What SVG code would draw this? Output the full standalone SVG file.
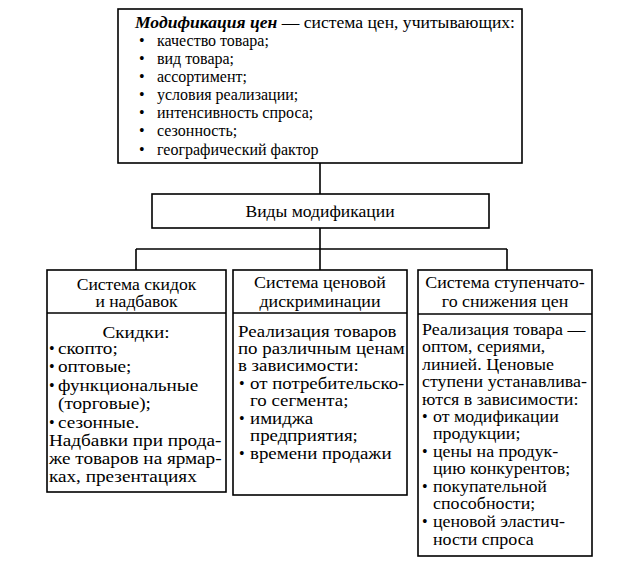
<svg xmlns="http://www.w3.org/2000/svg" width="637" height="579" viewBox="0 0 637 579" font-family="'Liberation Serif', 'Times New Roman', serif" font-size="16">
<style>
.b{fill:#fff;stroke:#000;stroke-width:1.6}
.l{stroke:#000;stroke-width:1.6;fill:none}
text{fill:#000}
.c{text-anchor:middle}
</style>
<rect width="637" height="579" fill="#fff"/>
<g id="connectors">
<line class="l" x1="320" y1="163" x2="320" y2="194"/>
<line class="l" x1="320" y1="228" x2="320" y2="249"/>
<line class="l" x1="136" y1="249" x2="507" y2="249"/>
<line class="l" x1="136" y1="249" x2="136" y2="270"/>
<line class="l" x1="320" y1="249" x2="320" y2="270"/>
<line class="l" x1="507" y1="249" x2="507" y2="270"/>
</g>
<g id="top">
<rect class="b" x="118" y="9" width="404" height="154"/>
<text x="135" y="28" transform="translate(135,0) scale(1.1,1) translate(-135,0)"><tspan font-weight="bold" font-style="italic">Модификация цен</tspan> — система цен, учитывающих:</text>
<g>
<text x="139" y="46">•</text><text x="157" y="46">качество товара;</text>
<text x="139" y="64">•</text><text x="157" y="64">вид товара;</text>
<text x="139" y="82">•</text><text x="157" y="82">ассортимент;</text>
<text x="139" y="100">•</text><text x="157" y="100">условия реализации;</text>
<text x="139" y="118">•</text><text x="157" y="118">интенсивность спроса;</text>
<text x="139" y="136">•</text><text x="157" y="136">сезонность;</text>
<text x="139" y="155">•</text><text x="157" y="155">географический фактор</text>
</g>
</g>
<g id="kinds">
<rect class="b" x="152" y="194" width="337" height="34"/>
<text class="c" x="320" y="217" transform="translate(320,0) scale(1.1,1) translate(-320,0)">Виды модификации</text>
</g>
<g id="discounts">
<rect class="b" x="47" y="270" width="179" height="222"/>
<line class="l" x1="47" y1="313" x2="226" y2="313"/>
<g transform="translate(136.5,0) scale(1.1,1) translate(-136.5,0)">
<text class="c" x="136.5" y="290">Система скидок</text>
<text class="c" x="136.5" y="307">и надбавок</text>
</g>
<text x="49" y="354">•</text>
<text x="49" y="372">•</text>
<text x="49" y="391">•</text>
<text x="49" y="428">•</text>
<g transform="translate(49,0) scale(1.2,1) translate(-49,0)">
<text class="c" x="121.5" y="338">Скидки:</text>
<text x="56.5" y="354">скопто;</text>
<text x="56.5" y="372">оптовые;</text>
<text x="56.5" y="391">функциональные</text>
<text x="56.5" y="409">(торговые);</text>
<text x="56.5" y="428">сезонные.</text>
<text x="49" y="446">Надбавки при прода-</text>
<text x="49" y="464">же товаров на ярмар-</text>
<text x="49" y="482">ках, презентациях</text>
</g>
</g>
<g id="discrimination">
<rect class="b" x="233" y="270" width="174" height="225"/>
<line class="l" x1="233" y1="313" x2="407" y2="313"/>
<g transform="translate(320,0) scale(1.12,1) translate(-320,0)">
<text class="c" x="320" y="288">Система ценовой</text>
<text class="c" x="320" y="307">дискриминации</text>
</g>
<text x="239" y="389">•</text>
<text x="239" y="424">•</text>
<text x="239" y="459">•</text>
<g transform="translate(238,0) scale(1.18,1) translate(-238,0)">
<text x="238" y="337">Реализация товаров</text>
<text x="238" y="354">по различным ценам</text>
<text x="238" y="371">в зависимости:</text>
<text x="248.2" y="389">от потребительско-</text>
<text x="248.2" y="406">го сегмента;</text>
<text x="248.2" y="424">имиджа</text>
<text x="248.2" y="441">предприятия;</text>
<text x="248.2" y="459">времени продажи</text>
</g>
</g>
<g id="stepwise">
<rect class="b" x="418" y="270" width="174" height="286"/>
<line class="l" x1="418" y1="314" x2="592" y2="314"/>
<g transform="translate(505,0) scale(1.12,1) translate(-505,0)">
<text class="c" x="505" y="288">Система ступенчато-</text>
<text class="c" x="505" y="307">го снижения цен</text>
</g>
<text x="422" y="422">•</text>
<text x="422" y="457">•</text>
<text x="422" y="492">•</text>
<text x="422" y="527">•</text>
<g transform="translate(422,0) scale(1.12,1) translate(-422,0)">
<text x="422" y="335">Реализация товара —</text>
<text x="422" y="352">оптом, сериями,</text>
<text x="422" y="370">линией. Ценовые</text>
<text x="422" y="387">ступени устанавлива-</text>
<text x="422" y="405">ются в зависимости:</text>
<text x="431.8" y="422">от модификации</text>
<text x="431.8" y="439">продукции;</text>
<text x="431.8" y="457">цены на продук-</text>
<text x="431.8" y="474">цию конкурентов;</text>
<text x="431.8" y="492">покупательной</text>
<text x="431.8" y="509">способности;</text>
<text x="431.8" y="527">ценовой эластич-</text>
<text x="431.8" y="545">ности спроса</text>
</g>
</g>
</svg>
